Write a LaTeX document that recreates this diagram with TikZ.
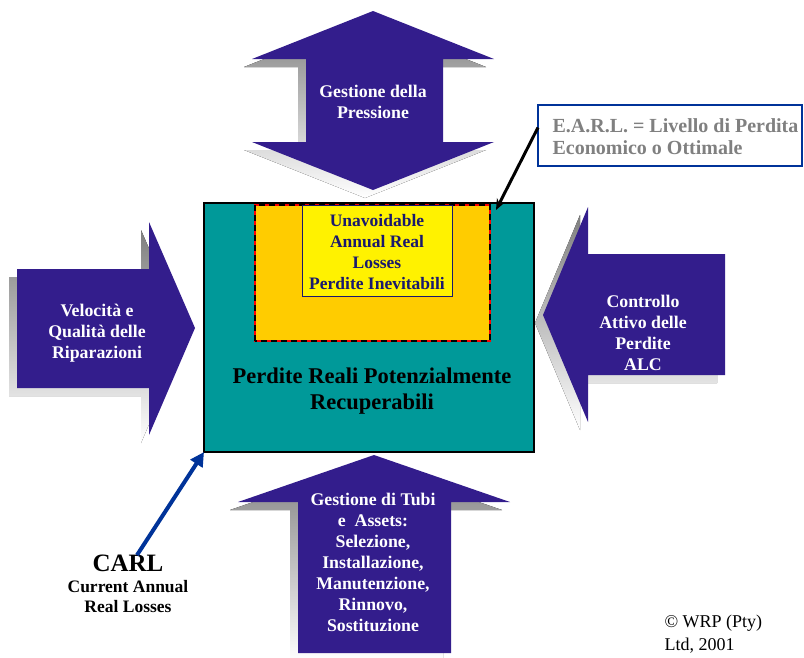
\documentclass[tikz,border=0pt]{standalone}
\usepackage{fontspec}
\setmainfont{Liberation Serif}
\usetikzlibrary{arrows.meta}
\definecolor{arrowblue}{RGB}{51,29,140}
\definecolor{shade}{RGB}{192,192,192}
\definecolor{pool}{RGB}{0,153,153}
\definecolor{earlorange}{RGB}{255,204,0}
\definecolor{earlgray}{RGB}{128,128,128}
\definecolor{uarlblue}{RGB}{25,25,110}
\definecolor{carlblue}{RGB}{0,51,153}
\begin{document}
\begin{tikzpicture}[x=1pt, y=-1pt,
  lbl/.style={text=white, font=\bfseries\fontsize{17.8}{21}\selectfont, align=center},
  box/.style={inner sep=0pt, outer sep=0pt}]
\useasboundingbox (0,0) rectangle (804,657);
\foreach \d/\c in {8/shade, 0/arrowblue}{
\fill[\c, shift={(-\d,\d)}](373,11)--(494,59)--(443,59)--(443,142)--(494,142)--(373,190)--(252,142)--(306,142)--(306,59)--(252,59)--cycle;
\fill[\c, shift={(-\d,\d)}](17,269)--(149,269)--(149,222)--(195,328)--(149,435)--(149,388)--(17,388)--cycle;
\fill[\c, shift={(-\d,\d)}](725,254)--(588,254)--(588,207)--(543,315)--(588,422)--(588,375)--(725,375)--cycle;
\fill[\c, shift={(-\d,\d)}](374,455)--(510,502)--(451,502)--(451,653)--(298,653)--(298,502)--(238,502)--cycle;
}
\node[box, draw=black, line width=1.5pt, fill=pool, minimum width=330pt, minimum height=249pt] (main) at (369,327.5) {};
\node[box, draw=red, line width=1.8pt, fill=earlorange, minimum width=235pt, minimum height=136pt] (earl) at (372.5,273) {};
\draw[black, line width=1.8pt, dash pattern=on 6pt off 4pt] (earl.south west) rectangle (earl.north east);
\node[box, draw=uarlblue, line width=.8pt, fill=yellow, minimum width=150pt, minimum height=91pt] (uarl) at (377,250.5) {};
\node[text=uarlblue, font=\bfseries\fontsize{17.5}{21}\selectfont, align=center] (uarltext) at (377,252) {Unavoidable\\Annual Real\\Losses\\Perdite Inevitabili};
\node[font=\bfseries\fontsize{22.5}{26}\selectfont, align=center] (recup) at (372,391) {Perdite Reali Potenzialmente\\Recuperabili};
\node[lbl] (press) at (373,102) {Gestione della\\Pressione};
\node[lbl] (ripar) at (97,333) {Velocità e\\Qualità delle\\Riparazioni};
\node[lbl] (alc) at (643,333) {Controllo\\Attivo delle\\Perdite\\ALC};
\node[lbl] (tubi) at (373,562) {Gestione di Tubi\\e\ \ Assets:\\Selezione,\\Installazione,\\Manutenzione,\\Rinnovo,\\Sostituzione};
\node[box, draw=carlblue, line width=2pt, fill=white, minimum width=264pt, minimum height=61pt] (earlbox) at (670,135.5) {};
\node[text=earlgray, font=\bfseries\fontsize{20}{22}\selectfont, align=left, anchor=west] (earltext) at (549,137) {E.A.R.L. = Livello di Perdita\\Economico o Ottimale};
\coordinate (earltip) at (496,210);
\draw[line width=3pt, -{Stealth[length=11pt, width=9pt]}] ([yshift=8pt]earlbox.west) -- (earltip);
\node[font=\bfseries\fontsize{25}{28}\selectfont] (carl) at (128,563) {CARL};
\node[font=\bfseries\fontsize{17.5}{20}\selectfont, align=center] (carlname) at (128,597) {Current Annual\\Real Losses};
\draw[carlblue, line width=4pt, -{Triangle[length=14pt, width=14pt]}] ([xshift=9pt, yshift=-4pt]carl.north) -- (main.south west);
\node[font=\fontsize{18}{23}\selectfont, align=left, anchor=north west] (wrp) at (661,611) {© WRP (Pty)\\Ltd, 2001};
\end{tikzpicture}
\end{document}
